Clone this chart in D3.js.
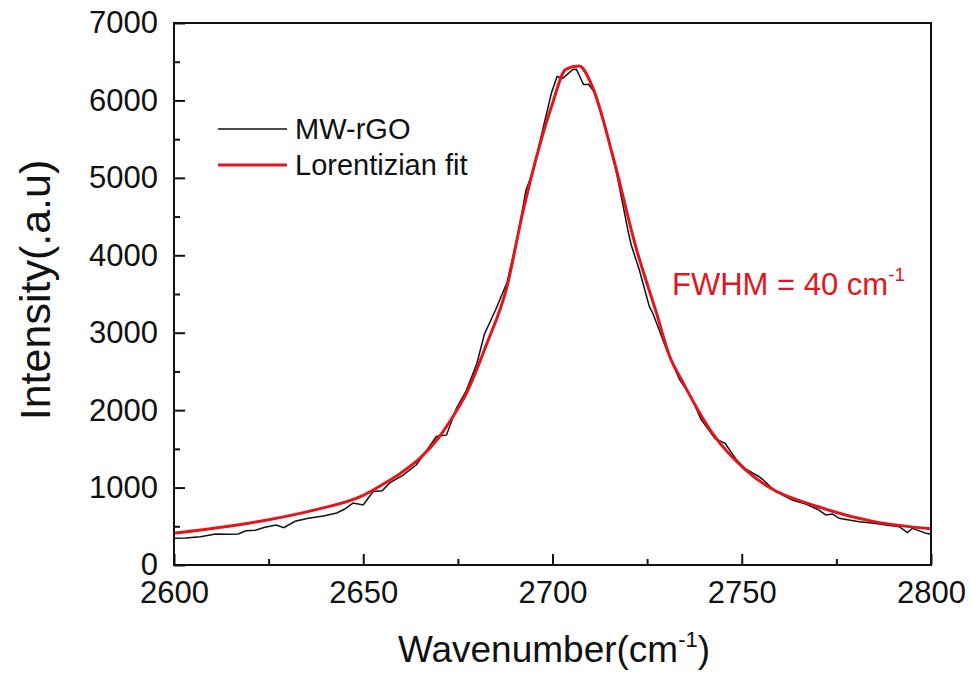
<!DOCTYPE html>
<html><head><meta charset="utf-8">
<script src="https://cdn.jsdelivr.net/npm/d3@7"></script>
<style>body{margin:0;background:#fff}svg{display:block}text{font-family:"Liberation Sans",Arial,sans-serif}</style>
</head><body><svg id="c" width="971" height="675"></svg>
<script>
// Raw spectrum (MW-rGO)
const rawWave = [2600,2603,2607,2611,2614,2617,2619,2621.5,2624,2627,2629,2632,2635.5,2639.5,2643,2645,2647.3,2650,2652.6,2655,2657,2660.5,2664,2666.7,2669.3,2672,2674.6,2677.2,2680,2682,2685,2688,2691,2693,2695,2697.4,2699.7,2701.2,2702.7,2705.4,2706.3,2708.2,2709.6,2711.1,2714,2717,2719.9,2720.8,2723,2725.6,2726.5,2730,2733.5,2736.6,2739.2,2742.9,2745.6,2748.5,2751,2754.6,2755.5,2759,2763.4,2766.9,2770,2772.2,2774,2775.7,2781,2785,2788.1,2791.6,2793.8,2795.1,2798.7,2800];
const rawIntensity = [345,350,366,400,398,400,443,450,487,517,482,565,603,633,672,720,800,775,950,960,1060,1162,1291,1475,1660,1680,2024,2250,2600,2980,3300,3650,4300,4843,5100,5618,6092,6310,6286,6400,6402,6205,6205,6100,5650,5050,4327,4133,3800,3336,3251,2800,2400,2174,1885,1636,1571,1367,1240,1140,1107,947,840,788,720,646,659,603,560,540,517,495,418,474,409,396];
// Lorentzian fit curve
const fitWave = [2600,2613,2625,2637.5,2650,2656,2660,2665,2670,2674,2677,2682.5,2688,2692,2696.5,2700,2703.5,2707,2710.7,2716,2722,2727.5,2731,2734,2742,2751,2757,2770,2785,2800];
const fitIntensity = [410,490,585,715,900,1065,1190,1380,1650,1940,2190,2840,3600,4520,5400,5960,6402,6445,6160,5270,4110,3250,2690,2400,1720,1230,1010,755,560,468];
const xTicks = [2600,2650,2700,2750,2800];
const yTicks = [0,1000,2000,3000,4000,5000,6000,7000];
const legendLabels = ["MW-rGO","Lorentizian fit"];

const svg = d3.select("#c");
const L=174, R=931, T=23, B=565;
const x = d3.scaleLinear().domain([2600,2800]).range([L,R]);
const y = d3.scaleLinear().domain([0,7000]).range([B,T]);
const RED = "#e3161d";

// curves
const raw = rawWave.map((w,i)=>[w,rawIntensity[i]]);
const fit = fitWave.map((w,i)=>[w,fitIntensity[i]]);
svg.append("path").datum(raw).attr("fill","none").attr("stroke","#111").attr("stroke-width",1.5)
  .attr("d", d3.line().x(d=>x(d[0])).y(d=>y(d[1])));
svg.append("path").datum(fit).attr("fill","none").attr("stroke",RED).attr("stroke-width",3)
  .attr("stroke-linejoin","round")
  .attr("d", d3.line().curve(d3.curveMonotoneX).x(d=>x(d[0])).y(d=>y(d[1])));

// frame
svg.append("rect").attr("x",L).attr("y",T).attr("width",R-L).attr("height",B-T)
  .attr("fill","none").attr("stroke","#111").attr("stroke-width",2);

// axes (ticks inward)
const xMinor = d3.range(2625,2800,50);
const yMinor = d3.range(500,7000,1000);
const gx = svg.append("g").attr("transform",`translate(0,${B})`)
  .call(d3.axisBottom(x).tickValues(xTicks).tickSizeInner(-11).tickSizeOuter(0).tickPadding(16).tickFormat(d3.format("d")));
gx.select(".domain").remove();
gx.selectAll(".tick line").attr("stroke","#111").attr("stroke-width",2);
gx.selectAll("text").attr("font-size",31).attr("fill","#111").attr("font-family","Liberation Sans, Arial, sans-serif");
const gxm = svg.append("g").attr("transform",`translate(0,${B})`)
  .call(d3.axisBottom(x).tickValues(xMinor).tickSizeInner(-6).tickSizeOuter(0).tickFormat(""));
gxm.select(".domain").remove();
gxm.selectAll(".tick line").attr("stroke","#111").attr("stroke-width",2);

const gy = svg.append("g").attr("transform",`translate(${L},0)`)
  .call(d3.axisLeft(y).tickValues(yTicks).tickSizeInner(-11).tickSizeOuter(0).tickPadding(16).tickFormat(d3.format("d")));
gy.select(".domain").remove();
gy.selectAll(".tick line").attr("stroke","#111").attr("stroke-width",2);
gy.selectAll("text").attr("font-size",31).attr("fill","#111").attr("font-family","Liberation Sans, Arial, sans-serif");
const gym = svg.append("g").attr("transform",`translate(${L},0)`)
  .call(d3.axisLeft(y).tickValues(yMinor).tickSizeInner(-6).tickSizeOuter(0).tickFormat(""));
gym.select(".domain").remove();
gym.selectAll(".tick line").attr("stroke","#111").attr("stroke-width",2);

// axis titles
const xt = svg.append("text").attr("x",554).attr("y",662).attr("text-anchor","middle")
  .attr("font-size",37).attr("fill","#111");
xt.append("tspan").text("Wavenumber(cm");
xt.append("tspan").attr("font-size",22).attr("dy",-15).text("-1");
xt.append("tspan").attr("dy",15).text(")");

svg.append("text").attr("transform","translate(50,290) rotate(-90)").attr("text-anchor","middle")
  .attr("font-size",43).attr("fill","#111").text("Intensity(.a.u)");

// legend
const lg = svg.append("g");
[["#111",1.5,129],[RED,3,165]].forEach((s,i)=>{
  lg.append("line").attr("x1",218).attr("x2",287).attr("y1",s[2]).attr("y2",s[2])
    .attr("stroke",s[0]).attr("stroke-width",s[1]);
  lg.append("text").attr("x",295).attr("y",s[2]+9.5).attr("font-size",29).attr("fill","#111").text(legendLabels[i]);
});

// annotation
const an = svg.append("text").attr("x",672).attr("y",295).attr("font-size",31).attr("fill",RED);
an.append("tspan").text("FWHM = 40 cm");
an.append("tspan").attr("font-size",19).attr("dy",-14).text("-1");
</script></body></html>
